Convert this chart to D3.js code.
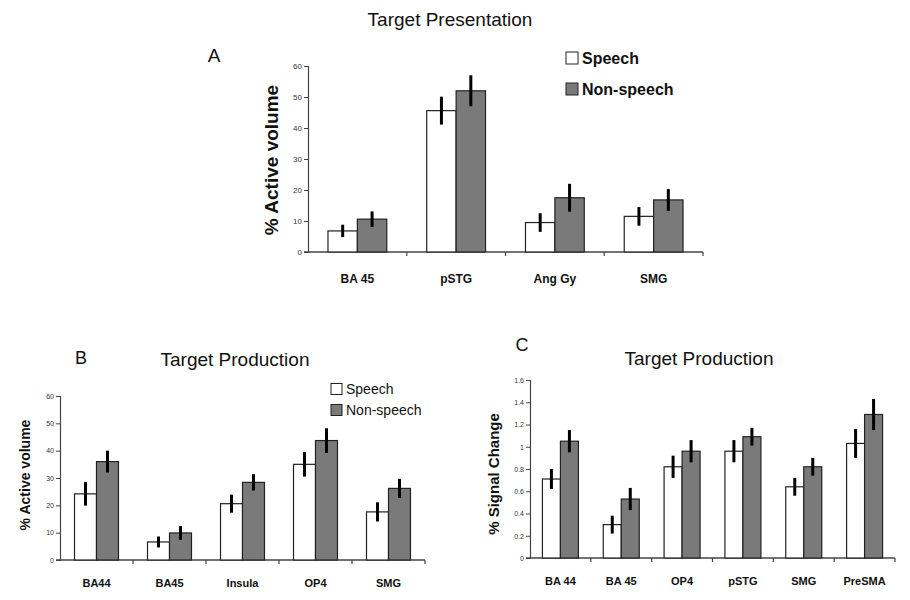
<!DOCTYPE html>
<html><head><meta charset="utf-8">
<script src="https://cdn.jsdelivr.net/npm/d3@7"></script>
<style>body{margin:0;background:#fff;} svg{display:block;}</style>
</head><body>
<svg id="c" width="910" height="600"></svg>
<script>
// Panel A: Target Presentation
const catsA = ["BA 45", "pSTG", "Ang Gy", "SMG"];
const speechA = [6.8, 45.6, 9.5, 11.5];
const speechErrA = [2, 4.5, 3, 3];
const nonA = [10.6, 52, 17.5, 16.8];
const nonErrA = [2.5, 5, 4.5, 3.5];
const ticksA = [0, 10, 20, 30, 40, 50, 60];

// Panel B: Target Production (% Active volume)
const catsB = ["BA44", "BA45", "Insula", "OP4", "SMG"];
const speechB = [24.2, 6.6, 20.6, 35, 17.6];
const speechErrB = [4.3, 2, 3.3, 4.5, 3.5];
const nonB = [36, 9.9, 28.4, 43.7, 26.2];
const nonErrB = [4, 2.5, 3, 4.5, 3.5];
const ticksB = [0, 10, 20, 30, 40, 50, 60];

// Panel C: Target Production (% Signal Change)
const catsC = ["BA 44", "BA 45", "OP4", "pSTG", "SMG", "PreSMA"];
const speechC = [0.71, 0.30, 0.82, 0.96, 0.64, 1.03];
const speechErrC = [0.09, 0.08, 0.10, 0.10, 0.08, 0.13];
const nonC = [1.05, 0.53, 0.96, 1.09, 0.82, 1.29];
const nonErrC = [0.10, 0.10, 0.10, 0.08, 0.08, 0.14];
const ticksC = [0, 0.2, 0.4, 0.6, 0.8, 1, 1.2, 1.4, 1.6];

const seriesNames = ["Speech", "Non-speech"];
const FONT = "Liberation Sans, Arial, sans-serif";
const GRAY = "#7a7a7a";

const svg = d3.select("#c");

function panel(o) {
  const g = svg.append("g");
  const x = d3.scaleBand().domain(o.cats).range([o.x0, o.x1]).paddingInner(0).paddingOuter(0);
  const y = d3.scaleLinear().domain([0, o.ymax]).range([o.y0, o.y1]);
  const inner = d3.scaleBand().domain([0, 1]).range([0, x.bandwidth()]).paddingOuter(o.pad).paddingInner(0);

  // y axis
  const ya = d3.axisLeft(y).tickValues(o.ticks).tickSize(4).tickFormat(d => String(d));
  const yg = g.append("g").attr("transform", `translate(${o.x0},0)`).call(ya);
  yg.select(".domain").attr("stroke", "#444").attr("stroke-width", 1.2);
  yg.selectAll(".tick line").attr("stroke", "#444");
  yg.selectAll(".tick text").attr("font-family", FONT).attr("font-size", o.tickFs).attr("fill", "#333").attr("x", -6);

  // x axis with ticks between categories
  g.append("line").attr("x1", o.x0 - 4).attr("x2", o.x1).attr("y1", o.y0).attr("y2", o.y0).attr("stroke", "#444").attr("stroke-width", 1.5);
  o.cats.forEach((c, i) => {
    const xx = x(c) + x.bandwidth();
    g.append("line").attr("x1", xx).attr("x2", xx).attr("y1", o.y0).attr("y2", o.y0 + 4).attr("stroke", "#444").attr("stroke-width", 1.2);
    g.append("text").attr("x", x(c) + x.bandwidth() / 2).attr("y", o.labelY)
      .attr("text-anchor", "middle").attr("font-family", FONT).attr("font-size", o.xFs)
      .attr("font-weight", o.xBold ? "bold" : "normal").attr("fill", "#111").text(c);
  });

  const series = [[o.s, o.se], [o.n, o.ne]];
  series.forEach(([vals, errs], si) => {
    o.cats.forEach((c, i) => {
      const bx = x(c) + inner(si);
      const bw = inner.bandwidth();
      g.append("rect").attr("x", bx).attr("y", y(vals[i])).attr("width", bw).attr("height", o.y0 - y(vals[i]))
        .attr("fill", si === 0 ? "#fff" : GRAY).attr("stroke", "#222").attr("stroke-width", 1.2);
    });
  });
  series.forEach(([vals, errs], si) => {
    o.cats.forEach((c, i) => {
      const cx = x(c) + inner(si) + inner.bandwidth() / 2;
      g.append("line").attr("x1", cx).attr("x2", cx).attr("y1", y(vals[i] + errs[i])).attr("y2", y(vals[i] - errs[i]))
        .attr("stroke", "#000").attr("stroke-width", 3);
    });
  });

  // y label
  g.append("text").attr("transform", `translate(${o.ylx},${(o.y0 + o.y1) / 2 + o.ylShift}) rotate(-90)`)
    .attr("text-anchor", "middle").attr("font-family", FONT).attr("font-size", o.ylFs).attr("font-weight", "bold")
    .attr("fill", "#111").text(o.ylabel);

  // title and letter
  g.append("text").attr("x", o.tx).attr("y", o.ty).attr("text-anchor", "middle").attr("font-family", FONT)
    .attr("font-size", o.tFs).attr("fill", "#111").text(o.title);
  g.append("text").attr("x", o.lx).attr("y", o.ly).attr("text-anchor", "middle").attr("font-family", FONT)
    .attr("font-size", o.lFs).attr("fill", "#111").text(o.letter);

  if (o.legend) {
    seriesNames.forEach((nm, si) => {
      const ly = o.legend.y + si * o.legend.dy;
      g.append("rect").attr("x", o.legend.x).attr("y", ly - o.legend.sq / 2).attr("width", o.legend.sq).attr("height", o.legend.sq)
        .attr("fill", si === 0 ? "#fff" : GRAY).attr("stroke", "#222").attr("stroke-width", 1);
      g.append("text").attr("x", o.legend.x + o.legend.sq + 4).attr("y", ly).attr("dy", "0.35em")
        .attr("font-family", FONT).attr("font-size", o.legend.fs).attr("font-weight", o.legend.bold ? "bold" : "normal")
        .attr("fill", "#111").text(nm);
    });
  }
}

panel({cats: catsA, s: speechA, se: speechErrA, n: nonA, ne: nonErrA, ticks: ticksA, ymax: 60,
  x0: 308, x1: 703, y0: 252, y1: 66, pad: 0.68, tickFs: 8, xFs: 12, xBold: true, labelY: 283,
  ylabel: "% Active volume", ylx: 278, ylFs: 19, ylShift: 1,
  title: "Target Presentation", tx: 450, ty: 26, tFs: 19, letter: "A", lx: 214, ly: 62, lFs: 19,
  legend: {x: 566, y: 58, dy: 31, sq: 12, fs: 16, bold: true}});

panel({cats: catsB, s: speechB, se: speechErrB, n: nonB, ne: nonErrB, ticks: ticksB, ymax: 60,
  x0: 60, x1: 425, y0: 560, y1: 396, pad: 0.66, tickFs: 7, xFs: 11, xBold: true, labelY: 587,
  ylabel: "% Active volume", ylx: 30, ylFs: 14, ylShift: -3,
  title: "Target Production", tx: 235, ty: 366, tFs: 19, letter: "B", lx: 81, ly: 364, lFs: 18,
  legend: {x: 331, y: 389, dy: 21, sq: 11, fs: 14, bold: false}});

panel({cats: catsC, s: speechC, se: speechErrC, n: nonC, ne: nonErrC, ticks: ticksC, ymax: 1.6,
  x0: 530, x1: 895, y0: 558, y1: 380, pad: 0.69, tickFs: 7, xFs: 11, xBold: true, labelY: 585,
  ylabel: "% Signal Change", ylx: 499, ylFs: 15, ylShift: 5,
  title: "Target Production", tx: 699, ty: 365, tFs: 19, letter: "C", lx: 522, ly: 351, lFs: 18,
  legend: null});
</script>
</body></html>
